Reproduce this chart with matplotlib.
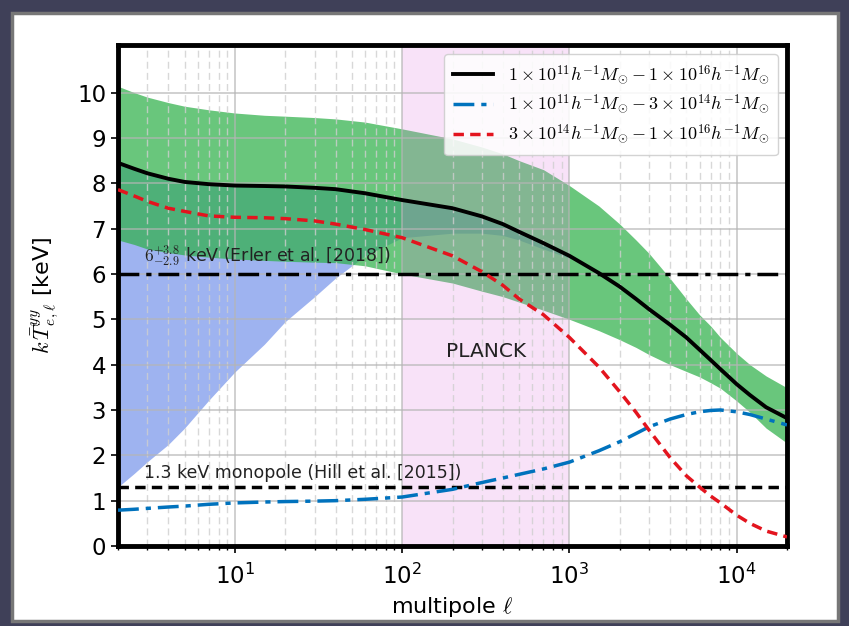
import numpy as np
import matplotlib
matplotlib.use("Agg")
import matplotlib.pyplot as plt
from matplotlib.patches import Rectangle

plt.rcParams['mathtext.fontset'] = 'cm'

# ---------------- data ----------------
ell = [2, 2.5, 3, 4, 5, 7, 10, 15, 20, 30, 40, 60, 100, 200, 300, 400, 500,
       700, 1000, 1500, 2000, 2500, 3000, 4000, 5000, 6000, 7000, 8000,
       10000, 12000, 15000, 20000]
T_all = [8.45, 8.32, 8.22, 8.1, 8.03, 7.98, 7.95, 7.94, 7.93, 7.9, 7.87,
         7.78, 7.63, 7.45, 7.27, 7.1, 6.93, 6.68, 6.4, 6.02, 5.72, 5.45,
         5.22, 4.88, 4.6, 4.33, 4.1, 3.9, 3.57, 3.33, 3.06, 2.82]
T_low = [0.79, 0.81, 0.83, 0.86, 0.88, 0.92, 0.95, 0.97, 0.98, 0.99, 1.0,
         1.03, 1.08, 1.25, 1.4, 1.5, 1.58, 1.7, 1.85, 2.1, 2.3, 2.48, 2.63,
         2.8, 2.9, 2.96, 2.99, 3.0, 2.96, 2.9, 2.8, 2.67]
T_high = [7.86, 7.72, 7.6, 7.45, 7.38, 7.28, 7.25, 7.24, 7.22, 7.17, 7.1,
          6.98, 6.8, 6.4, 6.05, 5.75, 5.45, 5.1, 4.6, 3.95, 3.4, 2.95, 2.55,
          1.95, 1.55, 1.3, 1.1, 0.95, 0.68, 0.5, 0.33, 0.2]
green_hi = [10.14, 10.0, 9.9, 9.78, 9.7, 9.62, 9.55, 9.5, 9.48, 9.45, 9.42,
            9.35, 9.2, 8.98, 8.8, 8.65, 8.5, 8.3, 7.95, 7.5, 7.1, 6.75, 6.45,
            5.9, 5.45, 5.1, 4.85, 4.6, 4.25, 4.0, 3.75, 3.49]
green_lo = [6.75, 6.65, 6.55, 6.47, 6.42, 6.37, 6.33, 6.3, 6.28, 6.26, 6.25,
            6.18, 6.0, 5.8, 5.62, 5.5, 5.38, 5.2, 5.0, 4.75, 4.55, 4.38, 4.22,
            4.0, 3.85, 3.73, 3.6, 3.48, 3.2, 2.95, 2.6, 2.27]

ell_blue = [2, 2.5, 3, 4, 5, 7, 10, 15, 20, 30, 40, 60, 100, 200, 300, 400,
            500, 700, 1000, 1200]
blue_lo = [1.3, 1.6, 1.86, 2.24, 2.6, 3.22, 3.84, 4.45, 4.95, 5.5, 5.91,
           6.4, 6.8, 6.9, 6.9, 6.85, 6.75, 6.55, 6.35, 6.22]
blue_hi = [8.45, 8.32, 8.22, 8.1, 8.03, 7.98, 7.95, 7.94, 7.93, 7.9, 7.87,
           7.78, 7.63, 7.45, 7.27, 7.1, 6.93, 6.68, 6.4, 6.22]

erler_T = 6.0
hill_T = 1.3
planck_range = (100, 1000)

labels = [r'$1\times10^{11}h^{-1}M_{\odot}-1\times10^{16}h^{-1}M_{\odot}$',
          r'$1\times10^{11}h^{-1}M_{\odot}-3\times10^{14}h^{-1}M_{\odot}$',
          r'$3\times10^{14}h^{-1}M_{\odot}-1\times10^{16}h^{-1}M_{\odot}$']

# ---------------- figure ----------------
W, H = 849, 626
fig = plt.figure(figsize=(W / 100, H / 100), dpi=100)
fig.patch.set_facecolor('#3f4058')
panel = Rectangle((12 / W, 5 / H), 826 / W, 608 / H, transform=fig.transFigure,
                  facecolor='white', edgecolor='#777777', linewidth=2.5,
                  zorder=-10)
fig.patches.append(panel)

ax = fig.add_axes([118 / W, 1 - 546 / H, (787 - 118) / W, (546 - 45) / H])
ax.set_facecolor('white')

ax.fill_between(ell_blue, blue_lo, blue_hi, color='#6a8be8', alpha=0.65,
                linewidth=0, zorder=0.5)
ax.fill_between(ell, green_lo, green_hi, color='#2fb04a', alpha=0.72,
                linewidth=0, zorder=0.6)
ax.axvspan(*planck_range, color='#e27ee2', alpha=0.22, linewidth=0, zorder=0.7)

ax.plot(ell, T_all, color='black', lw=2.8, label=labels[0], zorder=3)
ax.plot(ell, T_low, color='#0072bd', lw=2.5, ls=(0, (6, 2, 1.5, 2)),
        label=labels[1], zorder=3)
ax.plot(ell, T_high, color='#e3141e', lw=2.5, ls=(0, (3, 1.8)),
        label=labels[2], zorder=3)

ax.axhline(erler_T, color='black', lw=2.5, ls=(0, (6, 2, 1.5, 2)), zorder=2.8)
ax.axhline(hill_T, color='black', lw=2.5, ls=(0, (3, 1.8)), zorder=2.8)

ax.text(2.85, erler_T + 0.12, r'$6^{+3.8}_{-2.9}$ keV (Erler et al. [2018])',
        fontsize=12.5, color='#222222', va='bottom', ha='left', zorder=4)
ax.text(2.85, hill_T + 0.12, '1.3 keV monopole (Hill et al. [2015])',
        fontsize=12.5, color='#222222', va='bottom', ha='left', zorder=4)
ax.text(316, 4.3, 'PLANCK', fontsize=14.5, color='#222222', ha='center',
        va='center', zorder=4)

ax.set_xscale('log')
ax.set_xlim(2, 2e4)
ax.set_ylim(0, 11.05)
ax.set_yticks(range(0, 11))
ax.tick_params(axis='both', which='major', labelsize=16.5, direction='out',
               length=5, width=1.2)
ax.tick_params(axis='x', which='minor', direction='out', length=3, width=1)
ax.tick_params(axis='x', which='major', pad=8)

ax.grid(True, which='major', color='#b5b5b5', lw=1.1, alpha=0.8)
ax.grid(True, which='minor', axis='x', color='#cfcfcf', lw=1.0,
        ls=(0, (5, 3)), alpha=0.8)

for s in ax.spines.values():
    s.set_linewidth(3.5)

ax.set_xlabel(r'multipole $\ell$', fontsize=16)
ax.set_ylabel(r'$k\,\bar{T}^{yy}_{e,\ell}$ [keV]', fontsize=16, labelpad=12)

leg = ax.legend(loc='upper right', fontsize=13, handlelength=2.2,
                framealpha=0.85, borderpad=0.5, labelspacing=0.35,
                bbox_to_anchor=(1.0, 1.0))
leg.set_zorder(5)

fig.savefig('out.png', dpi=100, facecolor=fig.get_facecolor())
